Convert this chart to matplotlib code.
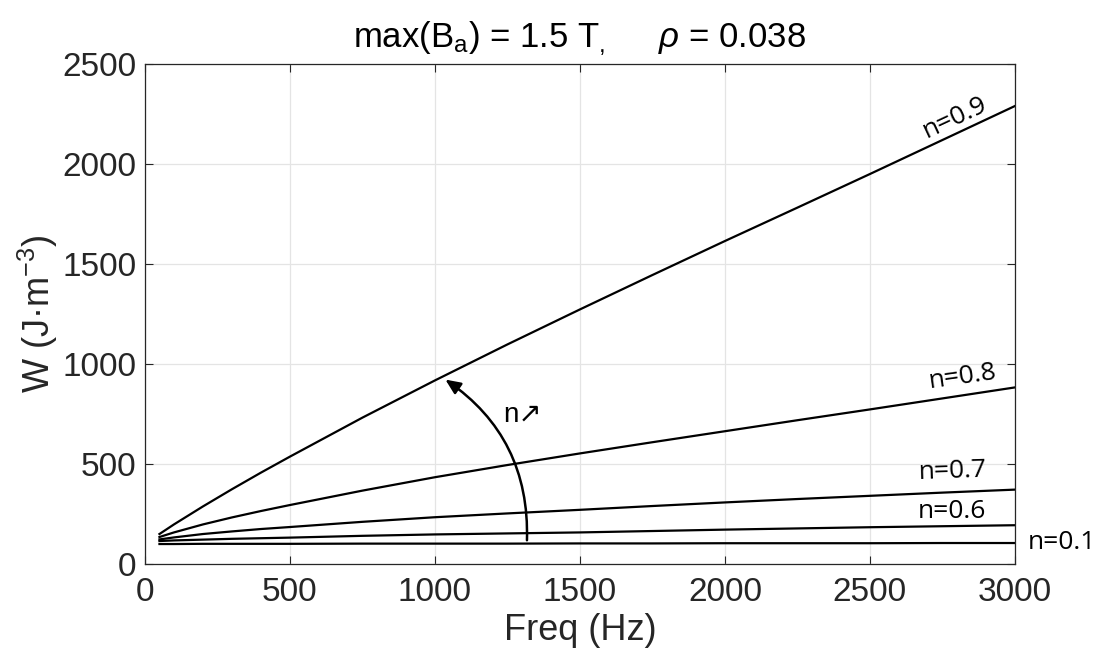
import matplotlib
matplotlib.use("Agg")
import matplotlib.pyplot as plt
from matplotlib.patches import FancyArrowPatch

plt.rcParams['font.family'] = ['Liberation Sans', 'DejaVu Sans']
plt.rcParams['mathtext.fontset'] = 'custom'
plt.rcParams['mathtext.rm'] = 'Liberation Sans'
plt.rcParams['mathtext.it'] = 'Liberation Sans:italic'

# values
freq = [50, 100, 200, 300, 400, 500, 750, 1000, 1250, 1500, 1750, 2000, 2250, 2500, 2750, 3000]
w_09 = [150, 198, 288, 374, 457, 537, 732, 918, 1098, 1273, 1445, 1615, 1782, 1950, 2120, 2290]
w_08 = [135, 158, 198, 233, 265, 295, 367, 434, 495, 553, 609, 664, 719, 773, 828, 883]
w_07 = [123, 133, 150, 163, 175, 185, 211, 234, 253, 271, 290, 308, 325, 341, 357, 372]
w_06 = [115, 118, 122, 126, 129, 132, 141, 148, 153, 158, 165, 172, 178, 184, 189, 194]
w_01 = [100, 100, 101, 101, 101, 101, 102, 102, 102, 103, 103, 104, 104, 104, 105, 105]

labels = ["n=0.9", "n=0.8", "n=0.7", "n=0.6", "n=0.1"]
label_pos = [(2793, 2230), (2821, 935), (2786, 462), (2783, 265), (3162, 110)]
label_rot = [25, 8, 2, 0, 0]


def draw():
    fig = plt.figure(figsize=(11.04, 6.62), dpi=100)
    ax = fig.add_axes([0.1313, 0.148, 0.7880, 0.7553])
    for w in [w_09, w_08, w_07, w_06, w_01]:
        ax.plot(freq, w, color="black", lw=1.6)

    ax.set_xlim(0, 3000)
    ax.set_ylim(0, 2500)
    ax.set_xticks(range(0, 3001, 500))
    ax.set_yticks(range(0, 2501, 500))
    ax.grid(True, color="#e4e4e4", lw=0.9)
    ax.set_axisbelow(True)
    ax.tick_params(direction="in", top=True, right=True, labelsize=24,
                   length=6, color="#262626", labelcolor="#262626")
    ax.tick_params(axis="x", pad=9)
    ax.tick_params(axis="y", pad=6)
    for s in ax.spines.values():
        s.set_color("#262626")
        s.set_linewidth(0.9)

    ax.set_xlabel("Freq (Hz)", fontsize=26, color="#262626", labelpad=4)
    ax.set_ylabel("W (J\u00b7m$^{-3}$)", fontsize=26, color="#262626", labelpad=2)
    ax.set_title("max(B$_\\mathregular{a}$) = 1.5 T$_,$     $\\rho$ = 0.038",
                 fontsize=25, color="black", pad=12)

    for lab, (x, y), r in zip(labels, label_pos, label_rot):
        ax.text(x, y, lab, fontsize=19, family="Open Sans", rotation=r,
                ha="center", va="center", clip_on=False)

    arr = FancyArrowPatch((1317, 105), (1028, 930),
                          connectionstyle="arc3,rad=0.28",
                          arrowstyle="-|>,head_length=9,head_width=4",
                          color="black", lw=1.8)
    ax.add_patch(arr)
    ax.text(1303, 745, "n\u2197", fontsize=20, family=["Liberation Sans", "DejaVu Sans"],
            ha="center", va="center")

    fig.savefig("out.png")


if __name__ == "__main__":
    draw()
